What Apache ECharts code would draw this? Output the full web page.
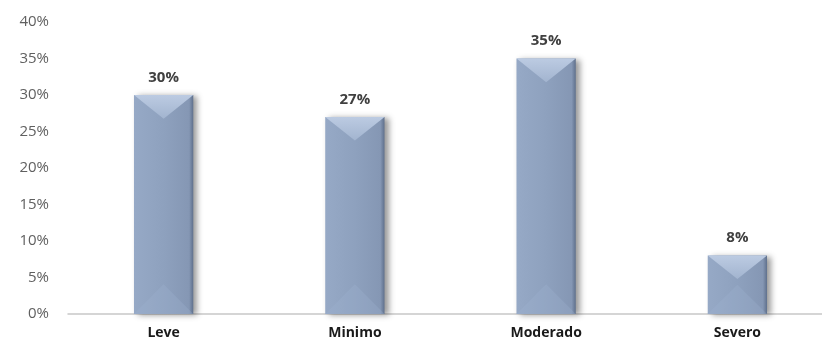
<!DOCTYPE html>
<html>
<head>
<meta charset="utf-8">
<script src="https://cdn.jsdelivr.net/npm/echarts@6/dist/echarts.min.js"></script>
<style>
  html, body { margin: 0; padding: 0; background: #fff; }
  #chart { width: 822px; height: 351px; }
</style>
</head>
<body>
<div id="chart"></div>
<script>
const categories = ['Leve', 'Minimo', 'Moderado', 'Severo']
const values = [30, 27, 35, 8]
const yTicks = [0, 5, 10, 15, 20, 25, 30, 35, 40]

const chart = echarts.init(document.getElementById('chart'))

// bevelled bar, drawn from the axis coords
const renderBar = (params, api) => {
  const idx = api.value(0)
  const val = api.value(1)
  const top = api.coord([idx, val])
  const base = api.coord([idx, 0])
  const bw = api.size([1, 0])[0] * 0.31
  const x0 = top[0] - bw / 2
  const x1 = top[0] + bw / 2
  const y0 = top[1]
  const y1 = base[1]
  const h = y1 - y0
  const d = Math.min(bw / 2, h / 2)
  return {
    type: 'group',
    children: [
      {
        type: 'rect',
        shape: { x: x0, y: y0, width: bw, height: h },
        style: {
          fill: new echarts.graphic.LinearGradient(0, 0, 1, 0, [
            { offset: 0, color: '#96a9c6' },
            { offset: 0.5, color: '#8ea1be' },
            { offset: 0.93, color: '#8597b4' },
            { offset: 1, color: '#5f708c' }
          ]),
          shadowColor: 'rgba(0,0,0,0.4)',
          shadowBlur: 6,
          shadowOffsetX: 4,
          shadowOffsetY: 1
        }
      },
      {
        type: 'polygon',
        shape: { points: [[x0, y0], [x1, y0], [top[0], y0 + d * 0.8]] },
        style: {
          fill: new echarts.graphic.LinearGradient(0, 0, 0, 1, [
            { offset: 0, color: '#bccbe2' },
            { offset: 1, color: '#a2b4cf' }
          ])
        }
      },
      {
        type: 'polygon',
        shape: { points: [[x0, y1], [x1, y1], [top[0], y1 - d]] },
        style: { fill: 'rgba(160,178,210,0.3)' }
      },
      {
        type: 'text',
        style: {
          x: top[0],
          y: y0 - 10,
          text: val + '%',
          fill: '#404040',
          font: 'bold 15px "Open Sans", sans-serif',
          align: 'center',
          verticalAlign: 'bottom'
        }
      }
    ]
  }
}

const option = {
  animation: false,
  grid: { left: 68, width: 765, top: 22, bottom: 37, outerBoundsMode: 'none' },
  xAxis: {
    type: 'category',
    data: categories,
    axisLine: { lineStyle: { color: '#c8c8c8', width: 1.5 } },
    axisTick: { show: false },
    axisLabel: {
      color: '#1a1a1a',
      fontFamily: 'Open Sans',
      fontWeight: 'bold',
      fontSize: 14,
      margin: 12
    }
  },
  yAxis: {
    type: 'value',
    min: yTicks[0],
    max: yTicks[yTicks.length - 1],
    interval: 5,
    splitLine: { show: false },
    axisLine: { show: false },
    axisTick: { show: false },
    axisLabel: {
      color: '#606060',
      fontFamily: 'Open Sans',
      fontSize: 15,
      margin: 19,
      formatter: '{value}%'
    }
  },
  series: [{
    type: 'custom',
    renderItem: renderBar,
    data: values.map((v, i) => [i, v])
  }]
}

chart.setOption(option)
</script>
</body>
</html>
